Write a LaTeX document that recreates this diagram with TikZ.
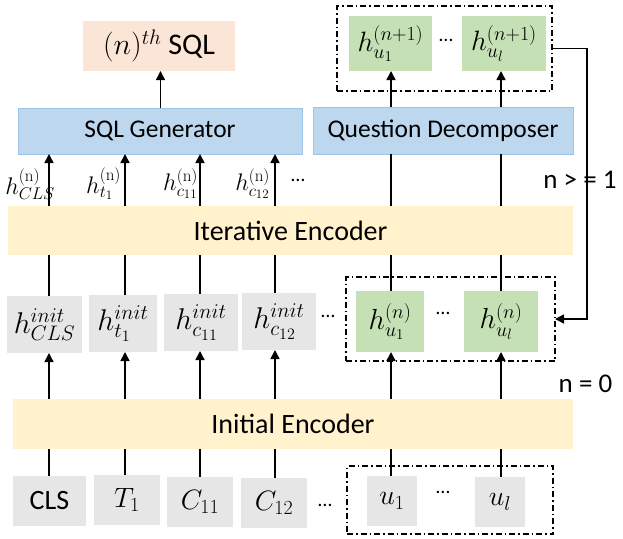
\RequirePackage{fix-cm}
\documentclass[tikz,border=0pt]{standalone}
\usepackage[no-math]{fontspec}
\setmainfont{Carlito}
\usetikzlibrary{arrows.meta}
\DeclareMathSizes{30}{30}{21}{16}
\DeclareMathSizes{29}{29}{20}{15}
\DeclareMathSizes{28}{28}{20}{15}
\DeclareMathSizes{24}{24}{17}{13}
\definecolor{peach}{HTML}{FBE5D6}
\definecolor{lblue}{HTML}{BDD7EE}
\definecolor{bblue}{HTML}{9DC3E6}
\definecolor{lyellow}{HTML}{FFF2CC}
\definecolor{lgray}{HTML}{E7E6E6}
\definecolor{lgreen}{HTML}{C5E0B4}
\newcommand{\myfs}[1]{\fontsize{#1}{#1}\selectfont}
\tikzset{
  base/.style={inner sep=0pt, outer sep=0pt},
  outbox/.style={base, fill=peach},
  bluebox/.style={base, fill=lblue, draw=bblue, line width=0.6pt},
  yelbox/.style={base, fill=lyellow},
  graybox/.style={base, fill=lgray},
  greenbox/.style={base, fill=lgreen},
  dashbox/.style={base, draw=black, line width=1.3pt, dash pattern=on 6pt off 3pt on 1.5pt off 3pt},
  conn/.style={line width=1.5pt},
  arr/.style={line width=1.5pt, -{Triangle[length=9pt,width=9pt]}},
  lbl/.style={base, anchor=east},
}
\begin{document}
\begin{tikzpicture}[x=1pt,y=-1pt]
\useasboundingbox (0,0) rectangle (623,538);

% column coordinates
\coordinate (k1) at (49,0);
\coordinate (k2) at (125,0);
\coordinate (k3) at (200,0);
\coordinate (k4) at (275,0);
\coordinate (k5) at (391,0);
\coordinate (k6) at (501,0);
\coordinate (k0) at (160.5,0);

% top
\node[outbox, minimum width=152, minimum height=50] (out) at (159,46) {\myfs{30}$(n)^{th}$ SQL};
\node[bluebox, minimum width=284, minimum height=46] (sg) at (160,131) {\myfs{25.5}SQL Generator};
\node[bluebox, minimum width=260, minimum height=47] (qd) at (443,130.5) {\myfs{25.5}Question Decomposer};
\node[dashbox, minimum width=215, minimum height=85] (topbox) at (444.5,48.5) {};
\node[greenbox, minimum width=83, minimum height=55] (hu1b) at (390.5,43.5) {\myfs{28}$h_{u_1}^{(n+1)}$};
\node[greenbox, minimum width=84, minimum height=55] (hulb) at (504,43.5) {\myfs{28}$h_{u_l}^{(n+1)}$};
\node[base] (dtop) at (446,40) {\myfs{20}\dots};

% iterative encoder
\node[yelbox, minimum width=565, minimum height=49] (ie) at (290.5,230.5) {\myfs{28}Iterative Encoder};

% labels h^(n)
\node[lbl] (l1) at (55,184) {\myfs{24}$h_{CLS}^{(\mathrm{n})}$};
\node[lbl] (l2) at (121,184) {\myfs{24}$h_{t_1}^{(\mathrm{n})}$};
\node[lbl] (l3) at (198,184) {\myfs{24}$h_{c_{11}}^{(\mathrm{n})}$};
\node[lbl] (l4) at (270,184) {\myfs{24}$h_{c_{12}}^{(\mathrm{n})}$};
\node[base] (dl) at (298,180) {\myfs{20}\dots};

% init row
\node[graybox, minimum width=75, minimum height=57] (icls) at (44.5,324.5) {\myfs{30}$h_{CLS}^{init}$};
\node[graybox, minimum width=68, minimum height=57] (it1) at (123,323.5) {\myfs{30}$h_{t_1}^{init}$};
\node[graybox, minimum width=74, minimum height=57] (ic11) at (201,322.5) {\myfs{30}$h_{c_{11}}^{init}$};
\node[graybox, minimum width=74, minimum height=57] (ic12) at (279,321.5) {\myfs{30}$h_{c_{12}}^{init}$};
\node[base] (dmid1) at (328,316) {\myfs{20}\dots};
\node[dashbox, minimum width=209, minimum height=84] (midbox) at (450.5,319) {};
\node[greenbox, minimum width=68, minimum height=61] (hu1) at (390,321.5) {\myfs{29}$h_{u_1}^{(n)}$};
\node[greenbox, minimum width=74, minimum height=61] (hul) at (501,321.5) {\myfs{29}$h_{u_l}^{(n)}$};
\node[base] (dmid2) at (443,313) {\myfs{20}\dots};

% initial encoder
\node[yelbox, minimum width=560, minimum height=50] (ine) at (293,424) {\myfs{28}Initial Encoder};

% bottom row
\node[graybox, minimum width=73, minimum height=50] (cls) at (49.5,501) {\myfs{28}CLS};
\node[graybox, minimum width=66, minimum height=50] (t1) at (127,500) {\myfs{28}$T_1$};
\node[graybox, minimum width=66, minimum height=50] (c11) at (200,502) {\myfs{28}$C_{11}$};
\node[graybox, minimum width=66, minimum height=50] (c12) at (274,503) {\myfs{28}$C_{12}$};
\node[base] (dbot1) at (325,505) {\myfs{20}\dots};
\node[dashbox, minimum width=206, minimum height=68] (botbox) at (450,500) {};
\node[graybox, minimum width=50, minimum height=50] (u1) at (392,501) {\myfs{28}$u_1$};
\node[graybox, minimum width=50, minimum height=50] (ul) at (500,502) {\myfs{28}$u_l$};
\node[base] (dbot2) at (443,492) {\myfs{20}\dots};

% side labels
\node[base] (ge1) at (580,180) {\myfs{27}n > = 1};
\node[base] (eq0) at (585.5,384) {\myfs{27}n = 0};

% connectors bottom -> initial encoder
\draw[conn] (cls.north -| k1) -- (ine.south -| k1);
\draw[conn] (t1.north -| k2) -- (ine.south -| k2);
\draw[conn] (c11.north -| k3) -- (ine.south -| k3);
\draw[conn] (c12.north -| k4) -- (ine.south -| k4);
\draw[conn] (u1.north -| k5) -- (ine.south -| k5);
\draw[conn] (ul.north -| k6) -- (ine.south -| k6);

% initial encoder -> init row
\draw[arr] (ine.north -| k1) -- (icls.south -| k1);
\draw[arr] (ine.north -| k2) -- (it1.south -| k2);
\draw[arr] (ine.north -| k3) -- (ic11.south -| k3);
\draw[arr] (ine.north -| k4) -- (ic12.south -| k4);
\draw[arr] (ine.north -| k5) -- (hu1.south -| k5);
\draw[arr] (ine.north -| k6) -- (hul.south -| k6);

% init row -> iterative encoder
\draw[conn] (icls.north -| k1) -- (ie.south -| k1);
\draw[conn] (it1.north -| k2) -- (ie.south -| k2);
\draw[conn] (ic11.north -| k3) -- (ie.south -| k3);
\draw[conn] (ic12.north -| k4) -- (ie.south -| k4);
\draw[conn] (hu1.north -| k5) -- (ie.south -| k5);
\draw[conn] (hul.north -| k6) -- (ie.south -| k6);

% iterative encoder -> generator / decomposer
\draw[arr] (ie.north -| k1) -- (sg.south -| k1);
\draw[arr] (ie.north -| k2) -- (sg.south -| k2);
\draw[arr] (ie.north -| k3) -- (sg.south -| k3);
\draw[arr] (ie.north -| k4) -- (sg.south -| k4);
\draw[conn] (ie.north -| k5) -- (qd.south -| k5);
\draw[conn] (ie.north -| k6) -- (qd.south -| k6);

% decomposer -> top green
\draw[arr] (qd.north -| k5) -- (hu1b.south -| k5);
\draw[arr] (qd.north -| k6) -- (hulb.south -| k6);

% generator -> output
\draw[arr] (sg.north -| k0) -- (out.south -| k0);

% feedback loop
\draw[arr] (topbox.east) -- ++(35,0) |- (midbox.east);
\end{tikzpicture}
\end{document}
